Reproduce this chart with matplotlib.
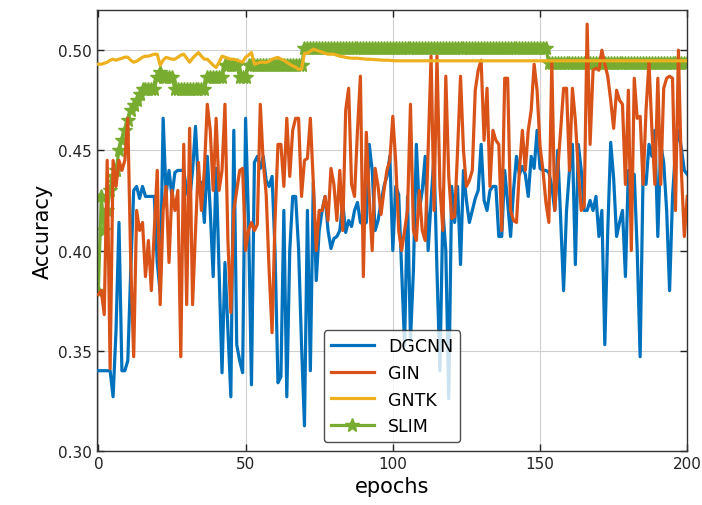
import numpy as np
import matplotlib
matplotlib.use("Agg")
import matplotlib.pyplot as plt

# ---- data, epochs 0..200 ----
dgcnn = [
    0.34, 0.34, 0.34, 0.34, 0.34, 0.327, 0.36, 0.414, 0.34, 0.34,
    0.345, 0.39, 0.43, 0.432, 0.426, 0.432, 0.427, 0.427, 0.427, 0.427,
    0.394, 0.379, 0.466, 0.428, 0.44, 0.427, 0.439, 0.44, 0.44, 0.44,
    0.43, 0.425, 0.44, 0.462, 0.432, 0.434, 0.414, 0.447, 0.42, 0.387,
    0.441, 0.39, 0.339, 0.394, 0.36, 0.327, 0.46, 0.353, 0.345, 0.339,
    0.466, 0.415, 0.333, 0.444, 0.447, 0.441, 0.447, 0.435, 0.432, 0.437,
    0.40, 0.334, 0.337, 0.42, 0.327, 0.40, 0.427, 0.427, 0.401, 0.353,
    0.3125, 0.42, 0.34, 0.434, 0.385, 0.41, 0.42, 0.427, 0.41, 0.401,
    0.406, 0.407, 0.41, 0.424, 0.409, 0.415, 0.412, 0.42, 0.424, 0.414,
    0.413, 0.414, 0.453, 0.44, 0.41, 0.415, 0.424, 0.432, 0.437, 0.447,
    0.40, 0.432, 0.428, 0.39, 0.3525, 0.427, 0.355, 0.39, 0.453, 0.42,
    0.43, 0.447, 0.40, 0.425, 0.447, 0.39, 0.34, 0.42, 0.40, 0.326,
    0.432, 0.414, 0.432, 0.393, 0.44, 0.425, 0.414, 0.42, 0.426, 0.43,
    0.453, 0.425, 0.42, 0.43, 0.432, 0.432, 0.407, 0.407, 0.44, 0.424,
    0.407, 0.43, 0.447, 0.438, 0.442, 0.438, 0.427, 0.447, 0.441, 0.46,
    0.441, 0.44, 0.44, 0.439, 0.432, 0.42, 0.45, 0.416, 0.38, 0.42,
    0.44, 0.453, 0.393, 0.453, 0.44, 0.42, 0.42, 0.425, 0.42, 0.427,
    0.407, 0.42, 0.353, 0.41, 0.454, 0.436, 0.407, 0.414, 0.42, 0.387,
    0.44, 0.424, 0.438, 0.40, 0.347, 0.438, 0.433, 0.453, 0.447, 0.46,
    0.407, 0.453, 0.444, 0.42, 0.38, 0.427, 0.45, 0.46, 0.451, 0.44,
    0.438,
]

gin = [
    0.378, 0.38, 0.368, 0.445, 0.341, 0.445, 0.432, 0.445, 0.44, 0.445,
    0.466, 0.394, 0.347, 0.42, 0.41, 0.414, 0.387, 0.405, 0.38, 0.41,
    0.44, 0.373, 0.42, 0.432, 0.394, 0.43, 0.42, 0.43, 0.347, 0.453,
    0.373, 0.461, 0.373, 0.41, 0.444, 0.42, 0.44, 0.473, 0.46, 0.43,
    0.466, 0.43, 0.44, 0.473, 0.405, 0.369, 0.42, 0.43, 0.44, 0.441,
    0.40, 0.41, 0.414, 0.41, 0.413, 0.473, 0.444, 0.428, 0.39, 0.359,
    0.415, 0.453, 0.453, 0.432, 0.466, 0.437, 0.46, 0.466, 0.466, 0.427,
    0.445, 0.446, 0.466, 0.434, 0.40, 0.42, 0.42, 0.427, 0.415, 0.441,
    0.433, 0.415, 0.44, 0.41, 0.47, 0.481, 0.433, 0.427, 0.46, 0.487,
    0.387, 0.459, 0.427, 0.40, 0.441, 0.432, 0.418, 0.43, 0.44, 0.445,
    0.467, 0.444, 0.41, 0.40, 0.41, 0.42, 0.473, 0.41, 0.405, 0.43,
    0.41, 0.405, 0.45, 0.497, 0.42, 0.497, 0.432, 0.41, 0.487, 0.437,
    0.416, 0.417, 0.45, 0.487, 0.45, 0.432, 0.435, 0.44, 0.48, 0.49,
    0.495, 0.455, 0.481, 0.432, 0.46, 0.455, 0.453, 0.41, 0.486, 0.486,
    0.42, 0.415, 0.414, 0.44, 0.46, 0.44, 0.46, 0.47, 0.493, 0.48,
    0.452, 0.44, 0.424, 0.414, 0.494, 0.42, 0.44, 0.46, 0.481, 0.481,
    0.44, 0.481, 0.465, 0.44, 0.42, 0.422, 0.513, 0.453, 0.49, 0.491,
    0.49, 0.50, 0.493, 0.487, 0.475, 0.461, 0.48, 0.475, 0.473, 0.433,
    0.48, 0.40, 0.486, 0.466, 0.467, 0.433, 0.47, 0.494, 0.46, 0.433,
    0.486, 0.433, 0.481, 0.486, 0.487, 0.486, 0.42, 0.50, 0.44, 0.407,
    0.427,
]

gntk = [
    0.493, 0.493, 0.4935, 0.494, 0.495, 0.4955, 0.495, 0.4955, 0.496, 0.4965,
    0.4965, 0.495, 0.494, 0.4945, 0.4955, 0.4965, 0.497, 0.497, 0.4975, 0.498,
    0.498, 0.4925, 0.495, 0.4964, 0.496, 0.4955, 0.4955, 0.4965, 0.4975, 0.498,
    0.496, 0.494, 0.496, 0.4975, 0.4988, 0.497, 0.4955, 0.4955, 0.494, 0.4925,
    0.4914, 0.494, 0.497, 0.4965, 0.496, 0.4955, 0.4955, 0.495, 0.4945, 0.494,
    0.4965, 0.4975, 0.4988, 0.493, 0.4935, 0.494, 0.494, 0.4939, 0.4945, 0.4955,
    0.496, 0.4964, 0.4955, 0.495, 0.494, 0.493, 0.4922, 0.4915, 0.4905, 0.4905,
    0.4985, 0.4985, 0.4995, 0.5005, 0.500, 0.4995, 0.499, 0.4985, 0.498, 0.498,
    0.498, 0.4975, 0.497, 0.4968, 0.4964, 0.4962, 0.496, 0.496, 0.496, 0.4958,
    0.4957, 0.4955, 0.4955, 0.4954, 0.4953, 0.4952, 0.4951, 0.4950, 0.4950, 0.4949,
    0.4948,
] + [0.4947] * 100

slim = (
    [0.38, 0.427, 0.41, 0.42, 0.43, 0.437, 0.44, 0.45, 0.455, 0.46,
     0.465, 0.47, 0.4725, 0.475, 0.478, 0.4805, 0.4805, 0.4805, 0.4805, 0.4805,
     0.4865, 0.489, 0.4865, 0.4865, 0.4865, 0.4865]
    + [0.4805] * 11      # epochs 26-36
    + [0.4865] * 6       # epochs 37-42
    + [0.4925] * 5       # epochs 43-47
    + [0.4865] * 3       # epochs 48-50
    + [0.4925] * 19      # epochs 51-69
    + [0.501] * 83       # epochs 70-152
    + [0.4935] * 48      # epochs 153-200
)

# name, values, colour, marker, zorder
series = [
    ("DGCNN", dgcnn, "#0072BD", None, 3),
    ("GIN", gin, "#D95319", None, 4),
    ("GNTK", gntk, "#EDB120", None, 5),
    ("SLIM", slim, "#77AC30", "*", 2),
]

x_ticks = [0, 50, 100, 150, 200]
y_ticks = [0.30, 0.35, 0.40, 0.45, 0.50]

fig = plt.figure(figsize=(7.02, 5.06), dpi=100)
ax = fig.add_axes([0.138, 0.107, 0.841, 0.871])

for name, vals, color, marker, z in series:
    xs = np.arange(len(vals))
    if marker:
        ax.plot(xs, vals, color=color, lw=2.3, marker=marker, markersize=10,
                label=name, zorder=z)
    else:
        ax.plot(xs, vals, color=color, lw=2.3, label=name, zorder=z)

ax.set_xlim(-0.5, 200)
ax.set_ylim(0.30, 0.52)
ax.set_xticks(x_ticks)
ax.set_yticks(y_ticks)
ax.set_yticklabels([f"{v:.2f}" for v in y_ticks])
ax.grid(True, color="#d0d0d0", lw=0.8)
ax.set_axisbelow(True)
ax.tick_params(direction="in", top=True, right=True, labelsize=11,
               length=5, width=1, colors="#222222")
for s in ax.spines.values():
    s.set_color("#333333")
    s.set_linewidth(1.0)

ax.set_xlabel("epochs", fontsize=15)
ax.set_ylabel("Accuracy", fontsize=15)

leg = ax.legend(loc="lower center", fontsize=12.5, framealpha=0.8,
                edgecolor="#222222", handlelength=2.5)
leg.set_zorder(10)
leg.get_frame().set_linewidth(1.0)

fig.savefig("out.png", dpi=100)
